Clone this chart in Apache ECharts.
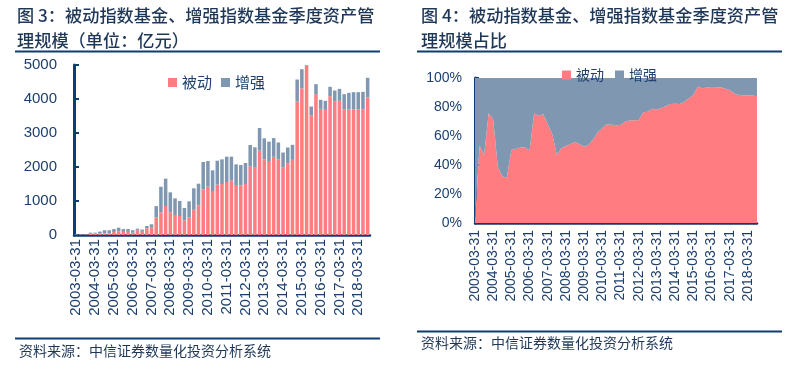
<!DOCTYPE html>
<html><head><meta charset="utf-8">
<script src="https://cdn.jsdelivr.net/npm/echarts@6/dist/echarts.min.js"></script>
<style>html,body{margin:0;padding:0;background:#fff}#c{width:790px;height:374px}</style>
</head><body><div id="c"></div>
<script>
const categories = [
'2003-03-31','2003-06-30','2003-09-30','2003-12-31',
'2004-03-31','2004-06-30','2004-09-30','2004-12-31',
'2005-03-31','2005-06-30','2005-09-30','2005-12-31',
'2006-03-31','2006-06-30','2006-09-30','2006-12-31',
'2007-03-31','2007-06-30','2007-09-30','2007-12-31',
'2008-03-31','2008-06-30','2008-09-30','2008-12-31',
'2009-03-31','2009-06-30','2009-09-30','2009-12-31',
'2010-03-31','2010-06-30','2010-09-30','2010-12-31',
'2011-03-31','2011-06-30','2011-09-30','2011-12-31',
'2012-03-31','2012-06-30','2012-09-30','2012-12-31',
'2013-03-31','2013-06-30','2013-09-30','2013-12-31',
'2014-03-31','2014-06-30','2014-09-30','2014-12-31',
'2015-03-31','2015-06-30','2015-09-30','2015-12-31',
'2016-03-31','2016-06-30','2016-09-30','2016-12-31',
'2017-03-31','2017-06-30','2017-09-30','2017-12-31',
'2018-03-31','2018-06-30','2018-09-30'];
// 被动指数基金 (亿元)
const passive = [
0.5,16,14,53, 50,39,45,44, 88,110,91,91, 70,140,118,199,
214,520,667,853, 667,588,559,431, 520,740,873,1343,
1422,1294,1480,1500, 1559,1608,1470,1460, 1500,2020,1980,2480,
2225,2176,2300,2230, 1995,2113,2211,3926, 4309,4990,3515,4142,
3711,3682,4083,3936, 3946,3700,3691,3700, 3691,3700,4044];
// 增强指数基金 (亿元)
const enhanced = [
19.5,14,16,17, 20,61,95,96, 87,105,84,84, 70,45,42,66,
101,330,753,804, 588,490,441,363, 470,633,637,804,
754,608,706,725, 745,696,608,598, 618,627,598,667,
618,569,550,490, 431,460,441,647, 568,320,264,294,
265,264,275,314, 353,442,490,501, 510,511,579];
const seriesNames = ['被动','增强'];
const leftTicks = {min:0, max:5000, interval:1000};
const rightTicks = {min:0, max:100, interval:20};

const shareP = passive.map((p,i)=> +(p/(p+enhanced[i])*100).toFixed(2));
const shareE = shareP.map(v=> +(100-v).toFixed(2));

const PINK = '#FF7C80', GREY = '#8097B1';
const NAVY = '#0E3C74', LBL = '#1C3F6E', TTL = '#1E3757';
const numFont = '"Liberation Sans", Arial, sans-serif';
const cjkFont = '"Noto Sans CJK SC", sans-serif';

const chart = echarts.init(document.getElementById('c'), null, {renderer:'canvas'});
chart.setOption({
  animation:false,
  color:[PINK, GREY],
  title:[
    {text:'图 3：被动指数基金、增强指数基金季度资产管\n理规模（单位：亿元）', left:17, top:3, padding:0,
     textStyle:{fontSize:17.2, lineHeight:25, fontWeight:500, color:TTL, fontFamily:cjkFont}},
    {text:'图 4：被动指数基金、增强指数基金季度资产管\n理规模占比', left:421, top:3, padding:0,
     textStyle:{fontSize:17.2, lineHeight:25, fontWeight:500, color:TTL, fontFamily:cjkFont}}
  ],
  legend:[
    {data:seriesNames, left:163, top:70, icon:'rect', itemWidth:9, itemHeight:9, itemGap:9,
     textStyle:{fontSize:15, color:LBL, fontFamily:cjkFont}},
    {data:seriesNames, left:557, top:63, icon:'rect', itemWidth:9, itemHeight:9, itemGap:11,
     textStyle:{fontSize:14, color:LBL, fontFamily:cjkFont}}
  ],
  grid:[
    {left:74, top:65, width:296, height:170},
    {left:475, top:78, width:282, height:145}
  ],
  xAxis:[
    {gridIndex:0, type:'category', data:categories, boundaryGap:true,
     axisLine:{lineStyle:{color:NAVY, width:2.5}}, axisTick:{show:false},
     axisLabel:{interval:3, rotate:90, fontSize:15, color:LBL, fontFamily:numFont, margin:4}},
    {gridIndex:1, type:'category', data:categories, boundaryGap:false,
     axisLine:{lineStyle:{color:NAVY, width:2.5}}, axisTick:{show:false},
     axisLabel:{interval:3, rotate:90, fontSize:14, color:LBL, fontFamily:numFont, margin:7}}
  ],
  yAxis:[
    {gridIndex:0, type:'value', min:leftTicks.min, max:leftTicks.max, interval:leftTicks.interval,
     axisLine:{show:true, lineStyle:{color:NAVY, width:3}},
     axisTick:{show:true, inside:true, length:5, lineStyle:{color:NAVY, width:2}},
     splitLine:{show:false},
     axisLabel:{fontSize:15, color:LBL, fontFamily:numFont, margin:17, formatter:(v)=>String(v)}},
    {gridIndex:1, type:'value', min:rightTicks.min, max:rightTicks.max, interval:rightTicks.interval,
     axisLine:{show:true, lineStyle:{color:NAVY, width:3}},
     axisTick:{show:true, inside:true, length:4, lineStyle:{color:NAVY, width:2}},
     splitLine:{show:false},
     axisLabel:{fontSize:14, color:LBL, fontFamily:numFont, margin:13, formatter:'{value}%'}}
  ],
  series:[
    {name:seriesNames[0], type:'bar', stack:'amt', xAxisIndex:0, yAxisIndex:0, data:passive,
     barCategoryGap:'25%', itemStyle:{color:PINK}},
    {name:seriesNames[1], type:'bar', stack:'amt', xAxisIndex:0, yAxisIndex:0, data:enhanced,
     barCategoryGap:'25%', itemStyle:{color:GREY}},
    {name:seriesNames[0], type:'line', stack:'pct', xAxisIndex:1, yAxisIndex:1, data:shareP,
     symbol:'none', lineStyle:{width:0}, areaStyle:{color:PINK, opacity:1}, itemStyle:{color:PINK}},
    {name:seriesNames[1], type:'line', stack:'pct', xAxisIndex:1, yAxisIndex:1, data:shareE,
     symbol:'none', lineStyle:{width:0}, areaStyle:{color:GREY, opacity:1}, itemStyle:{color:GREY}}
  ],
  graphic:[
    {type:'line', shape:{x1:15,y1:51.5,x2:380,y2:51.5}, style:{stroke:NAVY, lineWidth:2}},
    {type:'line', shape:{x1:417,y1:51.5,x2:782,y2:51.5}, style:{stroke:NAVY, lineWidth:2}},
    {type:'line', shape:{x1:15,y1:338.5,x2:380,y2:338.5}, style:{stroke:NAVY, lineWidth:2}},
    {type:'line', shape:{x1:417,y1:331.5,x2:782,y2:331.5}, style:{stroke:NAVY, lineWidth:2}},
    {type:'text', left:19, top:344, style:{text:'资料来源：中信证券数量化投资分析系统', font:'14px "Noto Sans CJK SC", sans-serif', fill:TTL}},
    {type:'text', left:421, top:336, style:{text:'资料来源：中信证券数量化投资分析系统', font:'14px "Noto Sans CJK SC", sans-serif', fill:TTL}}
  ]
});
</script></body></html>
